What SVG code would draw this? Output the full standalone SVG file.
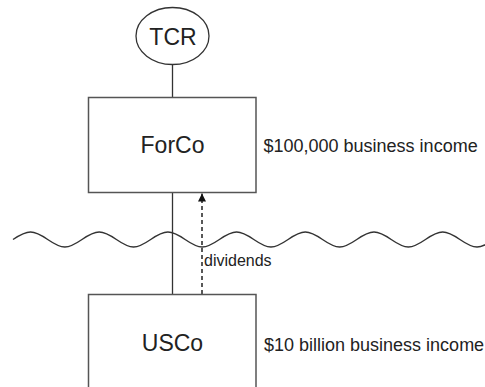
<svg xmlns="http://www.w3.org/2000/svg" width="485" height="387" viewBox="0 0 485 387">
  <defs>
    <style>
      .box { fill: #ffffff; stroke: #555555; stroke-width: 1.5; }
      .lbl { font-family: "Liberation Sans", Arial, sans-serif; fill: #222222; }
      .name { font-size: 23px; text-anchor: middle; }
      .note { font-size: 18px; }
      .small { font-size: 16px; }
      .link { stroke: #333333; stroke-width: 1.3; fill: none; }
      .dash { stroke: #222222; stroke-width: 1.5; fill: none; stroke-dasharray: 4 3; }
      .wave { stroke: #333333; stroke-width: 1.4; fill: none; }
    </style>
    <marker id="head" viewBox="0 0 10 10" refX="10" refY="5" markerWidth="8" markerHeight="8" markerUnits="userSpaceOnUse" orient="auto">
      <path d="M0,0 L10,5 L0,10 Z" fill="#111111"/>
    </marker>
  </defs>
  <rect width="485" height="387" fill="#ffffff"/>

  <!-- border line between jurisdictions -->
  <path class="wave" d="M13,239.5 C19,235.5 24.5,232 30.5,232
    C43,232 52.4,247 64.85,247 C77.3,247 86.7,232 99.2,232
    C111.7,232 121.1,247 133.55,247 C146,247 155.4,232 167.9,232
    C180.4,232 189.8,247 202.25,247 C214.7,247 224.1,232 236.6,232
    C249.1,232 258.5,247 270.95,247 C283.4,247 292.8,232 305.3,232
    C317.8,232 327.2,247 339.65,247 C352.1,247 361.5,232 374,232
    C386.5,232 395.9,247 408.35,247 C420.8,247 430.2,232 442.7,232
    C455.2,232 464.6,247 477.05,247 C489.5,247 498.9,232 511.4,232"/>

  <g id="connectors">
    <line class="link" x1="172.5" y1="64.5" x2="172.5" y2="97.5"/>
    <line class="link" x1="172.5" y1="192.5" x2="172.5" y2="294.5"/>
    <line class="dash" x1="202" y1="294" x2="202" y2="193.5" marker-end="url(#head)"/>
    <text class="lbl small" x="204" y="266">dividends</text>
  </g>

  <g id="tcr">
    <ellipse cx="172.5" cy="36" rx="36.5" ry="28.5" fill="#ffffff" stroke="#333333" stroke-width="1.3"/>
    <text class="lbl name" x="173" y="45">TCR</text>
  </g>

  <g id="forco">
    <rect class="box" x="88.5" y="97.5" width="167.5" height="95"/>
    <text class="lbl name" x="172.5" y="153">ForCo</text>
    <text class="lbl note" x="263.5" y="152">$100,000 business income</text>
  </g>

  <g id="usco">
    <rect class="box" x="88.5" y="294.5" width="167.5" height="100"/>
    <text class="lbl name" x="172.5" y="351">USCo</text>
    <text class="lbl note" x="264" y="351">$10 billion business income</text>
  </g>
</svg>
